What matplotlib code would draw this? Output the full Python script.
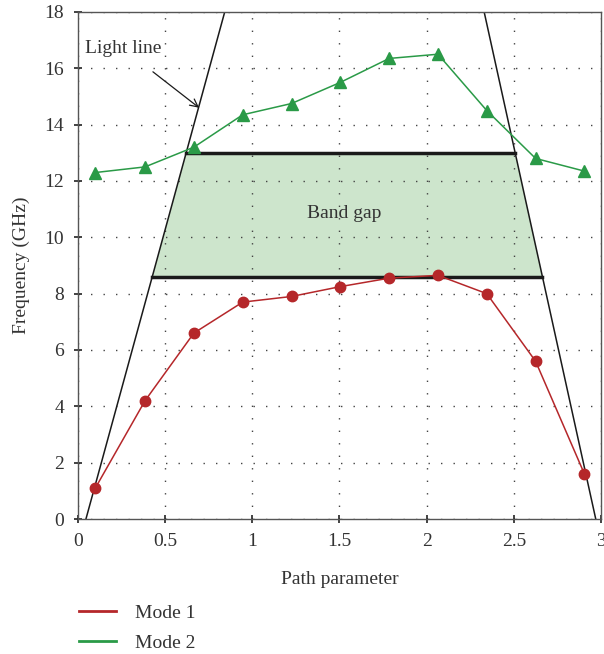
import matplotlib
matplotlib.use("Agg")
import matplotlib.pyplot as plt
import numpy as np

path = [0.1, 0.385, 0.665, 0.945, 1.225, 1.505, 1.785, 2.065, 2.345, 2.625, 2.905]
mode1 = [1.1, 4.2, 6.6, 7.7, 7.9, 8.25, 8.55, 8.65, 8.0, 5.6, 1.6]
mode2 = [12.3, 12.5, 13.2, 14.35, 14.75, 15.5, 16.35, 16.5, 14.5, 12.8, 12.35]
light_left_x = [0.046, 0.842]
light_right_x = [2.97, 2.33]
light_y = [0, 18]
gap_top = 13.0
gap_bottom = 8.6
xticks = [0, 0.5, 1, 1.5, 2, 2.5, 3]
xticklabels = ["0", "0.5", "1", "1.5", "2", "2.5", "3"]
yticks = [0, 2, 4, 6, 8, 10, 12, 14, 16, 18]

plt.rcParams['font.family'] = ['Liberation Serif', 'DejaVu Serif']
plt.rcParams['font.size'] = 14

fig = plt.figure(figsize=(6.04, 6.54), dpi=100)
ax = fig.add_axes([0.129, 0.2064, 0.866, 0.7753])

red = '#b5272a'
green = '#2a9a47'

def lx(xs, y):
    return xs[0] + (xs[1] - xs[0]) * (y - light_y[0]) / (light_y[1] - light_y[0])

tl, tr = lx(light_left_x, gap_top), lx(light_right_x, gap_top)
bl, br = lx(light_left_x, gap_bottom), lx(light_right_x, gap_bottom)
ax.fill([bl, tl, tr, br], [gap_bottom, gap_top, gap_top, gap_bottom], color='#cde5cc', zorder=1, lw=0)
ax.plot([tl, tr], [gap_top, gap_top], color='#1a1a1a', lw=2.5, zorder=3)
ax.plot([bl, br], [gap_bottom, gap_bottom], color='#1a1a1a', lw=2.5, zorder=3)

ax.plot(light_left_x, light_y, color='#1a1a1a', lw=1.1, zorder=2)
ax.plot(light_right_x, light_y, color='#1a1a1a', lw=1.1, zorder=2)

ax.plot(path, mode1, color=red, lw=1.1, marker='o', ms=7.5, label='Mode 1', zorder=4)
ax.plot(path, mode2, color=green, lw=1.1, marker='^', ms=9, label='Mode 2', zorder=4)

ax.text(1.53, 10.85, 'Band gap', ha='center', va='center', fontsize=14, color='#333333')
ax.annotate('Light line', xy=(0.695, 14.6), xytext=(0.04, 16.7), ha='left', va='center',
            fontsize=14, color='#333333',
            arrowprops=dict(arrowstyle='->', color='#1a1a1a', lw=0.9, shrinkA=14, shrinkB=0))

ax.set_xlim(0, 3)
ax.set_ylim(0, 18)
ax.set_xticks(xticks)
ax.set_xticklabels(xticklabels)
ax.set_yticks(yticks)
ax.grid(True, linestyle=(0, (1, 8)), color='#444444', lw=1.0)
ax.tick_params(direction='inout', length=6, width=1.2, colors='#222222', labelsize=14,
               labelcolor='#333333', pad=7)
for s in ax.spines.values():
    s.set_color('#555555')
    s.set_linewidth(1.0)
ax.set_xlabel('Path parameter', fontsize=14, color='#333333', labelpad=15)
ax.set_ylabel('Frequency (GHz)', fontsize=14, color='#333333', labelpad=10)

leg = fig.legend(loc='upper left', bbox_to_anchor=(0.118, 0.088), frameon=False,
                 fontsize=14, handlelength=1.9, labelspacing=0.62, handletextpad=1.0,
                 borderaxespad=0)
for h in leg.legend_handles:
    h.set_marker('')
    h.set_linewidth(2)
for t in leg.get_texts():
    t.set_color('#333333')

fig.savefig('out.png', dpi=100)
